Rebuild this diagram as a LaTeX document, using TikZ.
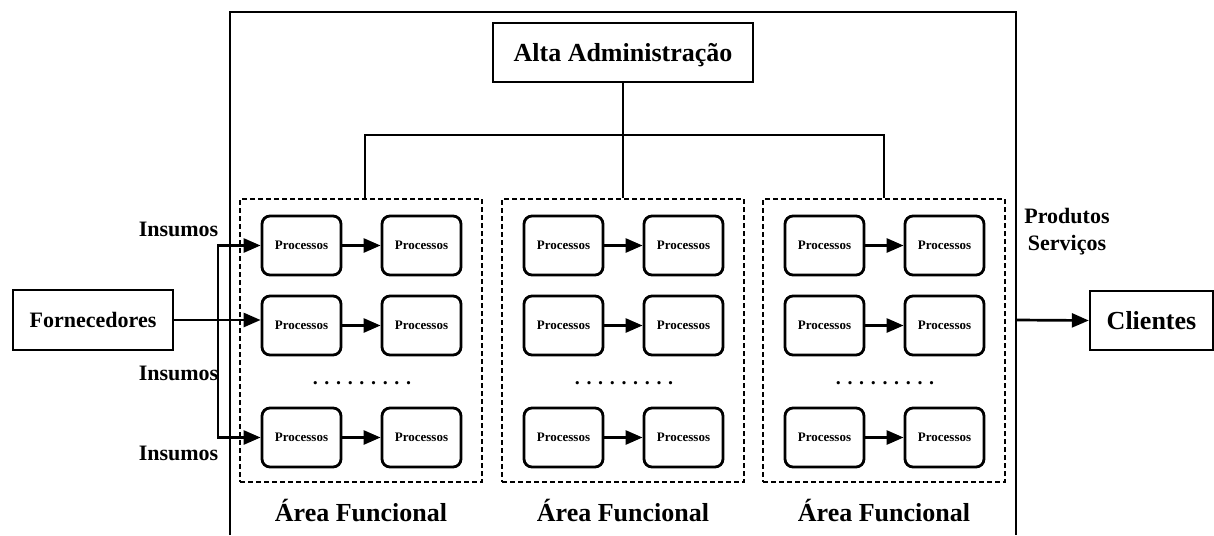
\documentclass[tikz,border=0pt]{standalone}
\usepackage{fontspec}
\setmainfont{Liberation Serif}
\usetikzlibrary{arrows.meta}

\begin{document}
\begin{tikzpicture}[x=1pt,y=-1pt,
  font=\bfseries,
  frame/.style={line width=1.4pt},
  tree/.style={line width=1.4pt},
  area/.style={draw, dash pattern=on 5pt off 3pt, line width=1.3pt,
    minimum width=242pt, minimum height=283pt, inner sep=0pt},
  proc/.style={draw, rounded corners=8pt, line width=2.8pt,
    minimum width=79pt, minimum height=59pt, inner sep=0pt,
    font=\bfseries\fontsize{13}{15}\selectfont},
  bigbox/.style={draw, line width=2.4pt, inner sep=0pt},
  flow/.style={line width=2.7pt, -{Triangle[length=17pt,width=14pt]}},
  lbl/.style={anchor=base, inner sep=0pt, font=\bfseries\fontsize{22}{27.5}\selectfont},
  arealbl/.style={anchor=base, inner sep=0pt, font=\bfseries\fontsize{26}{30}\selectfont},
  dotrow/.style={anchor=base, inner sep=0pt, font=\bfseries\fontsize{20}{24}\selectfont}
]
\useasboundingbox (0,0) rectangle (1214,535);

% organisation frame (open at the bottom)
\coordinate (fbl) at (230,535);
\coordinate (ftl) at (230,12);
\coordinate (ftr) at (1016,12);
\coordinate (fbr) at (1016,535);
\draw[frame] (fbl) -- (ftl) -- (ftr) -- (fbr);

% top management
\node[draw, line width=1.4pt, minimum width=260pt, minimum height=59pt,
      inner sep=0pt, text height=18pt, text depth=0pt,
      font=\bfseries\fontsize{26}{30}\selectfont] (alta) at (623,52.5) {Alta Administração};

% functional areas with their processes
\foreach \i/\cx in {1/361,2/623,3/884} {
  \node[area] (area\i) at (\cx,340.5) {};
  \node[arealbl] (albl\i) at (\cx,521) {Área Funcional};
  \foreach \r/\ry in {1/245.5,2/325.5,3/437.5} {
    \node[proc] (p\i\r a) at (\cx-59.5,\ry) {Processos};
    \node[proc] (p\i\r b) at (\cx+60.5,\ry) {Processos};
    \draw[flow] (p\i\r a) -- (p\i\r b);
  }
  \node[dotrow] (dots\i) at (\cx+1,384) {. . . . . . . . .};
}

% management links
\coordinate (bar) at (623,135);
\draw[tree] (alta.south) -- (area2.north);
\draw[tree] ([xshift=4pt]area1.north) |- (bar) -| (area3.north);

% suppliers and inputs
\node[bigbox, minimum width=160pt, minimum height=60pt,
      font=\bfseries\fontsize{22}{26}\selectfont] (forn) at (93,320) {Fornecedores};
\coordinate (split) at (218,320);
\draw[flow] (forn.east) -- (forn.east -| p12a.west);
\draw[flow] (split) |- (p11a.west);
\draw[flow] (split) |- (p13a.west);
\node[lbl] (ins1) at (178.5,236.5) {Insumos};
\node[lbl] (ins2) at (178.5,380) {Insumos};
\node[lbl] (ins3) at (178.5,460) {Insumos};

% customers and outputs
\node[bigbox, minimum width=123pt, minimum height=59pt,
      font=\bfseries\fontsize{26}{30}\selectfont] (cli) at (1151.5,320.5) {Clientes};
\coordinate (orgout) at (1016,320);
\draw[flow] (orgout) -- (cli.west);
\node[lbl, align=center] (prod) at (1067,250.5) {Produtos\\Serviços};
\end{tikzpicture}
\end{document}
